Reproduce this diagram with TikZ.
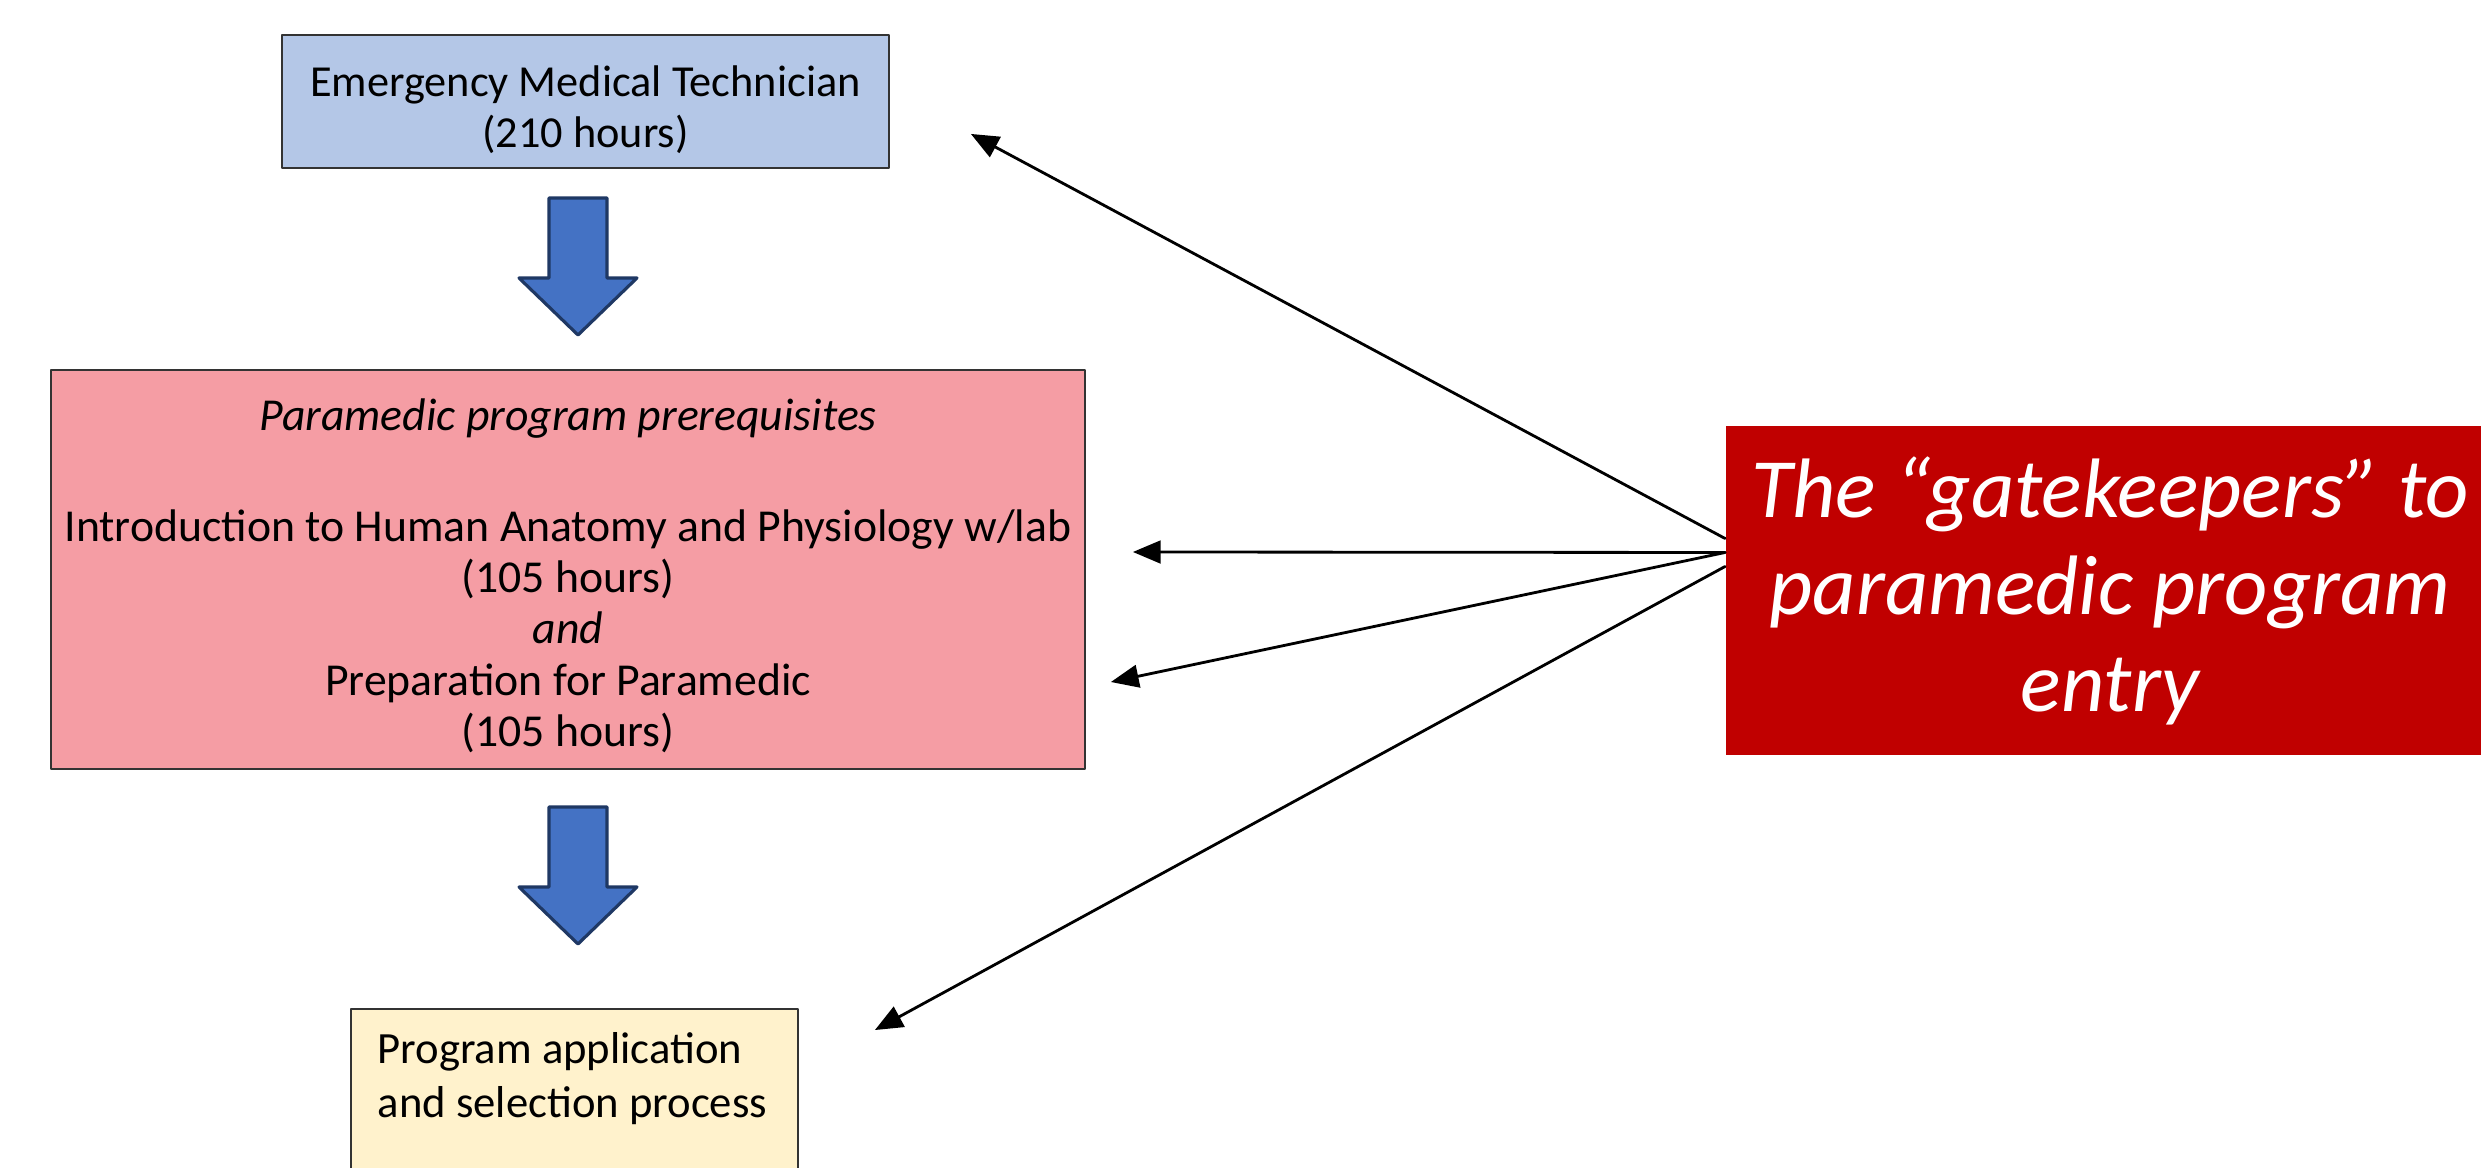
\documentclass[tikz,border=0pt]{standalone}
\usepackage{fontspec}
\setmainfont{Carlito}
\usetikzlibrary{arrows}
\usetikzlibrary{calc}
\definecolor{emtblue}{HTML}{B4C7E7}
\definecolor{prepink}{HTML}{F59DA4}
\definecolor{appyellow}{HTML}{FFF2CC}
\definecolor{gatered}{HTML}{C00000}
\definecolor{blockfill}{HTML}{4472C4}
\definecolor{blockline}{HTML}{1F3864}
\begin{document}
\begin{tikzpicture}[line cap=round,line join=round,>=triangle 45,x=0.01cm,y=-0.01cm,
	stepbox/.style={draw=black!80,line width=0.6pt,rectangle,inner sep=0pt,align=center},
	downarrow/.style={fill=blockfill,draw=blockline,line width=0.9pt},
	gatelink/.style={->,line width=0.8pt}]

		% rand
		\useasboundingbox (0,0) rectangle (2481,1168);
		\clip (0,0) rectangle (2481,1168);

		% laatikot
		\node[stepbox,fill=emtblue,minimum width=6.07cm,minimum height=1.33cm,
			font=\fontsize{12.6}{14.4}\selectfont] (emt) at (585.5,101.5)
			{\rule{0pt}{13.5pt}Emergency Medical Technician\\(210 hours)};

		\node[stepbox,fill=prepink,minimum width=10.34cm,minimum height=3.99cm,
			font=\fontsize{13}{14.6}\selectfont] (prereq) at (568,569.5)
			{\rule{0pt}{12.5pt}\textit{Paramedic program prerequisites}\\[17pt]
			Introduction to Human Anatomy and Physiology w/lab\\(105 hours)\\\textit{and}\\
			Preparation for Paramedic\\(105 hours)};

		\node[stepbox,fill=appyellow,anchor=north west,minimum width=4.47cm,minimum height=2.6cm] (apply) at (350,1008) {};
		\node[anchor=north west,inner sep=0pt,align=left,font=\fontsize{12.7}{15.3}\selectfont] (applytext)
			at ($(apply.north west)+(27,24)$) {Program application\\and selection process};

		% gatekeepers
		\node[fill=gatered,text=white,inner sep=0pt,minimum width=7.68cm,minimum height=3.29cm,align=center,
			font=\fontsize{24}{27.6}\selectfont\itshape] (gate) at (2110,590.5)
			{The “gatekeepers” to\\paramedic program\\entry};

		% siniset nuolet
		\foreach \y in {198,807}
		{
		\draw[downarrow] (549,\y) -- (607,\y) -- (607,\y+80) -- (637,\y+80) -- (578,\y+137)
			-- (519,\y+80) -- (549,\y+80) -- cycle;
		}

		% nuolet
		\coordinate (s1) at ($(gate.west)+(0,-52)$);
		\coordinate (s2) at ($(gate.west)+(0,-38)$);
		\coordinate (s3) at ($(gate.west)+(0,-24)$);
		\coordinate (t1) at (971,134);
		\coordinate (t2) at (1133,552);
		\coordinate (t3) at (1111,682);
		\coordinate (t4) at (875,1030);

		\draw[gatelink] (s1)--(t1);
		\draw[gatelink] (s2)--(t2);
		\draw[gatelink] (s2)--(t3);
		\draw[gatelink] (s3)--(t4);

	\end{tikzpicture}
\end{document}
